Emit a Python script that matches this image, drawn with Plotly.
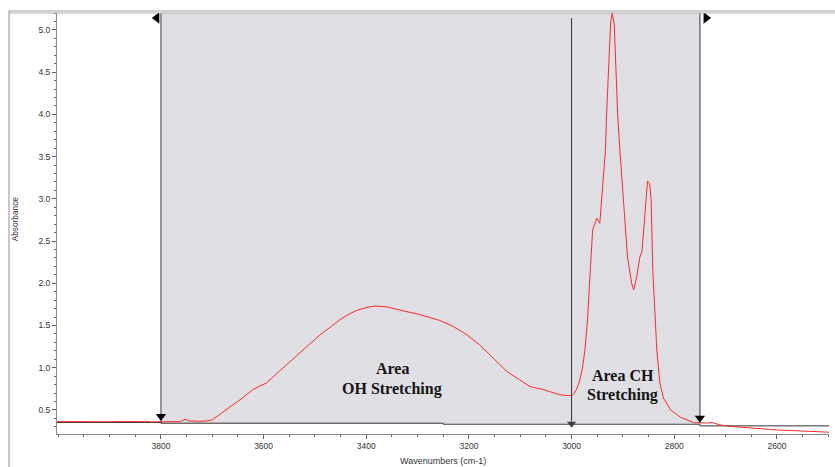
import plotly.graph_objects as go

# Spectrum (wavenumber cm-1, absorbance)
wavenumber = [4003, 3980, 3960, 3940, 3920, 3900, 3880, 3860, 3840, 3830, 3820, 3800,
              3780, 3762, 3753, 3746, 3724, 3710, 3699, 3685, 3672, 3660, 3646, 3633,
              3621, 3607, 3594, 3580, 3568, 3549, 3529, 3510, 3490, 3470, 3451,
              3435, 3418, 3400, 3383, 3360, 3335, 3315, 3296, 3275, 3257, 3231, 3204,
              3179, 3154, 3126, 3101, 3081, 3066, 3056, 3043, 3023, 3012, 3004, 2999,
              2994, 2989, 2984, 2979, 2974, 2969, 2965, 2959, 2951, 2948, 2945, 2942,
              2939, 2934, 2932, 2929, 2927, 2924, 2921, 2917, 2915, 2913, 2910, 2906,
              2900, 2891, 2883, 2879, 2873, 2867, 2863, 2858, 2854, 2852, 2848, 2845,
              2842, 2834, 2828, 2821, 2807, 2788, 2762, 2746, 2735, 2727, 2711, 2690,
              2659, 2630, 2600, 2550, 2498]
absorbance = [0.362, 0.360, 0.363, 0.359, 0.362, 0.360, 0.364, 0.360, 0.362, 0.366, 0.358, 0.360,
              0.358, 0.362, 0.390, 0.370, 0.365, 0.370, 0.385, 0.450, 0.500, 0.560, 0.620, 0.680,
              0.740, 0.785, 0.820, 0.900, 0.965, 1.070, 1.170, 1.280, 1.390, 1.480, 1.570,
              1.630, 1.680, 1.712, 1.730, 1.720, 1.680, 1.655, 1.630, 1.595, 1.560, 1.490, 1.390,
              1.270, 1.120, 0.955, 0.856, 0.776, 0.755, 0.745, 0.717, 0.680, 0.672, 0.668, 0.668,
              0.700, 0.760, 0.856, 0.990, 1.210, 1.560, 2.000, 2.630, 2.770, 2.740, 2.710, 2.950,
              3.190, 3.580, 3.970, 4.370, 4.760, 5.080, 5.200, 5.080, 4.760, 4.370, 3.970, 3.580,
              3.070, 2.310, 2.000, 1.920, 2.080, 2.310, 2.370, 2.790, 3.100, 3.210, 3.180, 3.000,
              2.190, 1.210, 0.820, 0.640, 0.500, 0.414, 0.350, 0.343, 0.345, 0.352, 0.323, 0.305,
              0.291, 0.277, 0.263, 0.250, 0.236]

# Integration baseline segments (wavenumber, absorbance)
baseline_x = [4003, 3800, 3800, 3250, 3250, 2750, 2750, 2498]
baseline_y = [0.352, 0.352, 0.343, 0.343, 0.331, 0.331, 0.311, 0.311]

region_start, region_end = 3800, 2750   # integration limits
split_wn = 3000                          # OH / CH split
x_min, x_max = 2498.5, 4002.5
y_min, y_max = 0.215, 5.2

x_ticks = [3800, 3600, 3400, 3200, 3000, 2800, 2600]
y_ticks = [0.5, 1.0, 1.5, 2.0, 2.5, 3.0, 3.5, 4.0, 4.5, 5.0]

RED = "#ff2a2a"
SHADE = "#dfdfe4"

fig = go.Figure()

# shaded integration region
fig.add_shape(type="rect", xref="x", yref="y", x0=region_start, x1=region_end,
              y0=0.343, y1=y_max, fillcolor=SHADE, line_width=0, layer="below")

# baseline
fig.add_trace(go.Scatter(x=baseline_x, y=baseline_y, mode="lines",
                         line=dict(color="#303030", width=1), hoverinfo="skip"))

# spectrum
fig.add_trace(go.Scatter(x=wavenumber, y=absorbance, mode="lines",
                         line=dict(color=RED, width=1), hoverinfo="skip"))

# vertical limit lines
fig.add_trace(go.Scatter(x=[region_start, region_start], y=[y_max, 0.343], mode="lines",
                         line=dict(color="#404040", width=1), hoverinfo="skip"))
fig.add_trace(go.Scatter(x=[region_end, region_end], y=[y_max, 0.343], mode="lines",
                         line=dict(color="#7a7a7a", width=1.6), hoverinfo="skip"))
fig.add_trace(go.Scatter(x=[split_wn, split_wn], y=[5.14, 0.36], mode="lines",
                         line=dict(color="#303030", width=1), hoverinfo="skip"))

# markers
fig.add_trace(go.Scatter(x=[region_start, region_end], y=[0.425, 0.405], mode="markers",
                         marker=dict(symbol="triangle-down", size=9, color="black"), hoverinfo="skip"))
fig.add_trace(go.Scatter(x=[split_wn], y=[0.335], mode="markers",
                         marker=dict(symbol="triangle-down", size=8, color="#404040"), hoverinfo="skip"))
fig.add_trace(go.Scatter(x=[region_start + 8], y=[5.142], mode="markers",
                         marker=dict(symbol="triangle-left", size=10, color="black"), hoverinfo="skip"))
fig.add_trace(go.Scatter(x=[region_end - 12], y=[5.142], mode="markers",
                         marker=dict(symbol="triangle-right", size=10, color="black"), hoverinfo="skip"))

TXT = dict(family="Liberation Serif, Times New Roman, serif", size=16, color="#151515")
for x, y, t in [(3349, 0.985, "<b>Area</b>"), (3349, 0.748, "<b>OH Stretching</b>"),
                (2900, 0.905, "<b>Area CH</b>"), (2900, 0.678, "<b>Stretching</b>")]:
    fig.add_annotation(x=x, y=y, xref="x", yref="y", text=t, showarrow=False,
                       font=TXT, xanchor="center", yanchor="middle")

# axis titles
LBL = dict(family="Liberation Sans, Arial, sans-serif", color="#333333")
fig.add_annotation(x=-0.054, y=(434 - 219) / 421, xref="paper", yref="paper", text="Absorbance",
                   textangle=-90, showarrow=False, font=dict(size=8.3, **LBL),
                   xanchor="center", yanchor="middle")
fig.add_annotation(x=(443 - 57) / 772, y=(434 - 461) / 421, xref="paper", yref="paper",
                   text="Wavenumbers (cm-1)", showarrow=False, font=dict(size=9, **LBL),
                   xanchor="center", yanchor="middle")

# outer frame lines
fig.add_shape(type="line", xref="paper", yref="paper", x0=(9 - 57) / 772, x1=(835 - 57) / 772,
              y0=(434 - 11) / 421, y1=(434 - 11) / 421, line=dict(color="#a0a0a0", width=1))
fig.add_shape(type="line", xref="paper", yref="paper", x0=(9 - 57) / 772, x1=(835 - 57) / 772,
              y0=1.0, y1=1.0, line=dict(color="#b0b0b0", width=1))
fig.add_shape(type="line", xref="paper", yref="paper", x0=(9 - 57) / 772, x1=(9 - 57) / 772,
              y0=(434 - 11) / 421, y1=(434 - 468) / 421, line=dict(color="#909090", width=1))

fig.update_layout(
    width=835, height=467, margin=dict(l=57, r=6, t=13, b=33),
    paper_bgcolor="white", plot_bgcolor="white", showlegend=False,
    xaxis=dict(range=[x_max, x_min], tickvals=x_ticks, ticktext=[str(v) for v in x_ticks],
               showgrid=False, zeroline=False, showline=True, linecolor="#8a8a8a", linewidth=1,
               ticks="outside", ticklen=4, tickcolor="#606060",
               tickfont=dict(size=8.5, **LBL),
               minor=dict(dtick=50, tick0=2500, ticks="outside", ticklen=2, tickcolor="#606060")),
    yaxis=dict(range=[y_min, y_max], tickvals=y_ticks, ticktext=[f"{v:.1f}" for v in y_ticks],
               showgrid=False, zeroline=False, showline=True, linecolor="#8a8a8a", linewidth=1,
               ticks="outside", ticklen=4, tickcolor="#606060",
               tickfont=dict(size=8.5, **LBL),
               minor=dict(dtick=0.1, tick0=0, ticks="outside", ticklen=2, tickcolor="#606060")),
)

fig.write_html("out.html")
